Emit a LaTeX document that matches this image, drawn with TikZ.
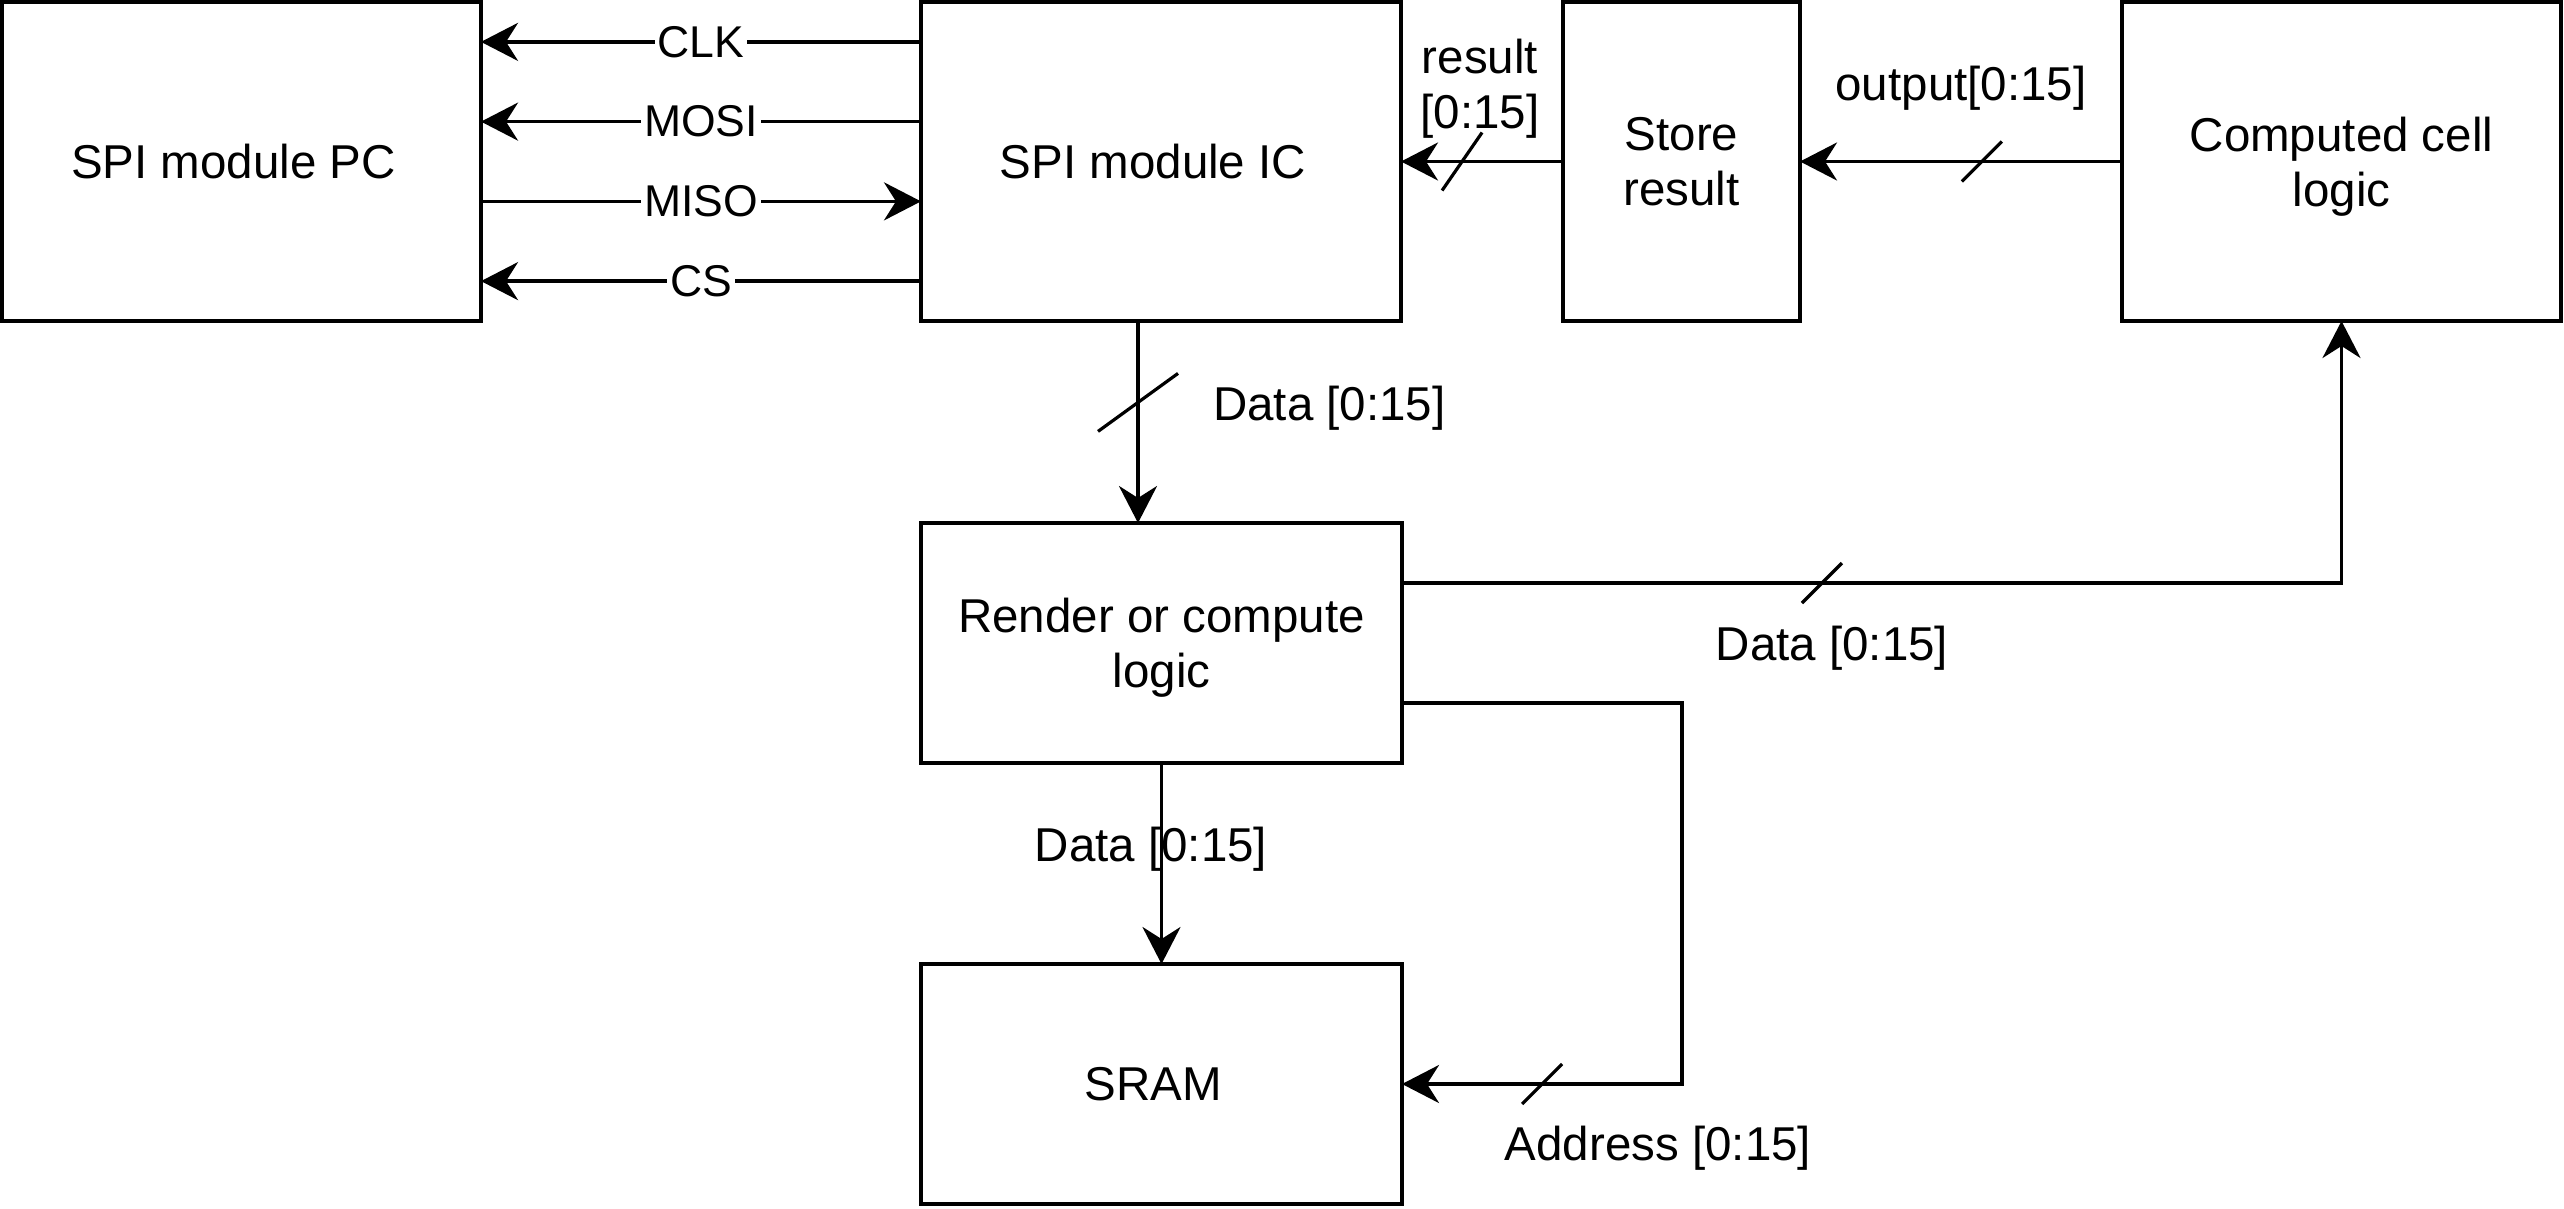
\documentclass[tikz,border=0pt]{standalone}
\usepackage{fontspec}
\setmainfont{Liberation Sans}
\usetikzlibrary{arrows.meta,calc}
\begin{document}
\begin{tikzpicture}[x=1pt,y=-1pt,
  box/.style={draw,line width=4.2pt,inner sep=0pt,outer sep=0pt,align=center,font=\fontsize{47.5}{55}\selectfont},
  conn/.style={line width=3.7pt,-{Stealth[length=37pt,width=38pt,inset=12pt]}},
  slash/.style={line width=3.2pt},
  sig/.style={fill=white,inner xsep=3pt,inner ysep=0pt,font=\fontsize{44.5}{52}\selectfont},
  lbl/.style={inner sep=0pt,align=center,font=\fontsize{47.5}{55}\selectfont}]
\useasboundingbox (0,0) rectangle (2564,1208);

% boxes
\node[box,minimum width=479pt,minimum height=319pt] (pc) at (241.5,161.5) {SPI module PC\hspace*{16pt}};
\node[box,minimum width=480pt,minimum height=319pt] (ic) at (1161,161.5) {SPI module IC\hspace*{16pt}};
\node[box,minimum width=237pt,minimum height=319pt] (store) at (1681.5,161.5) {Store\\result};
\node[box,minimum width=439pt,minimum height=319pt] (comp) at (2341.5,161.5) {Computed cell\\\raisebox{0pt}[\height][0pt]{logic}};
\node[box,minimum width=481pt,minimum height=240pt] (render) at (1161.5,643) {Render or compute\\\raisebox{0pt}[\height][0pt]{logic}};
\node[box,minimum width=481pt,minimum height=240pt] (sram) at (1161.5,1084) {SRAM\hspace*{16pt}};

% SPI bus
\draw[conn] ($(ic.north west)!0.125!(ic.south west)$) -- node[sig]{CLK} ($(pc.north east)!0.125!(pc.south east)$);
\draw[conn] ($(ic.north west)!0.375!(ic.south west)$) -- node[sig]{MOSI} ($(pc.north east)!0.375!(pc.south east)$);
\draw[conn] ($(pc.north east)!0.625!(pc.south east)$) -- node[sig]{MISO} ($(ic.north west)!0.625!(ic.south west)$);
\draw[conn] ($(ic.north west)!0.875!(ic.south west)$) -- node[sig]{CS} ($(pc.north east)!0.875!(pc.south east)$);

% result / output
\draw[conn] (store.west) -- (ic.east);
\draw[slash] ($(ic.east)!0.377!(store.west)$) +(-20,29) -- +(20,-29);
\node[lbl,anchor=base] (lres) at (1480,128) {result\\{[0:15]}};

\draw[conn] (comp.west) -- (store.east);
\draw[slash] ($(store.east)!0.565!(comp.west)$) +(-20,20) -- +(20,-20);
\node[lbl,anchor=base] (lout) at (1961,100) {output[0:15]};

% IC -> Render
\coordinate (icd) at ($(ic.south)+(-23,0)$);
\coordinate (icdend) at (icd |- render.north);
\draw[conn] (icd) -- (icdend);
\draw[slash] ($(icd)!0.403!(icdend)$) +(-40,29) -- +(40,-29);
\node[lbl,anchor=base west] (ld1) at (1213,420) {Data [0:15]};

% Render -> Computed
\coordinate (ra) at ($(render.north east)!0.25!(render.south east)$);
\coordinate (racorner) at (ra -| comp.south);
\draw[conn] (ra) -- (racorner) -- (comp.south);
\draw[slash] ($(ra)!0.447!(racorner)$) +(-20,20) -- +(20,-20);
\node[lbl,anchor=base] (ld2) at (1832,660) {Data [0:15]};

% Render -> SRAM
\draw[conn] (render.south) -- (sram.north);
\node[lbl,anchor=base] (ld3) at (1151,861) {Data [0:15]};

% Address
\coordinate (rb) at ($(render.north east)!0.75!(render.south east)$);
\coordinate (acorner) at ($(sram.east)+(280,0)$);
\draw[conn] (rb) -| (acorner) -- (sram.east);
\draw[slash] ($(sram.east)!0.5!(acorner)$) +(-20,20) -- +(20,-20);
\node[lbl,anchor=base] (laddr) at (1658,1160) {Address [0:15]};
\end{tikzpicture}
\end{document}
